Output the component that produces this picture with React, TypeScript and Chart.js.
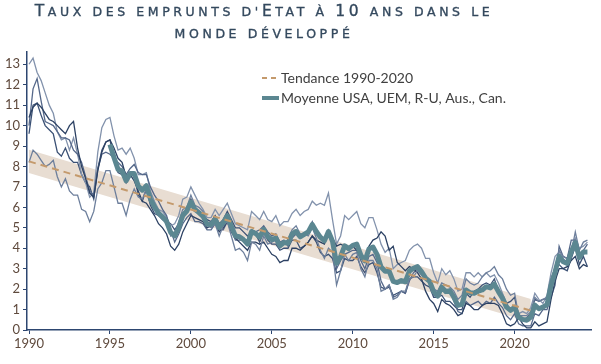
import React, { useEffect, useRef } from "react";
import { Chart, registerables } from "chart.js";

Chart.register(...registerables);

// Quarterly 10-year government bond yields (%), first value = 1990 Q1
const FIRST_YEAR = 1990;
const STEP = 0.25;

const usa = [
  8.2, 8.8, 8.6, 8.3, 8.0, 8.1, 8.3, 7.5, 7.0, 7.4, 6.8, 6.6, 6.6, 5.9, 5.8, 5.3,
  5.8, 6.9, 7.2, 7.8, 7.8, 7.0, 6.2, 6.2, 5.6, 6.4, 6.9, 6.5, 6.4, 6.9, 6.3, 5.9,
  5.6, 5.6, 5.4, 4.6, 4.7, 5.3, 5.9, 6.0, 6.6, 6.1, 6.0, 5.8, 5.1, 5.0, 5.2, 4.6,
  5.1, 5.3, 4.6, 3.9, 4.0, 3.8, 3.4, 4.3, 4.2, 3.9, 4.6, 4.2, 4.3, 4.4, 4.0, 4.3,
  4.4, 4.9, 5.1, 4.7, 4.7, 4.6, 5.0, 4.5, 3.9, 3.5, 4.0, 3.8, 2.2, 2.9, 3.7, 3.4,
  3.7, 3.8, 3.0, 2.6, 3.4, 3.4, 3.0, 1.9, 2.0, 2.2, 1.5, 1.6, 1.9, 1.9, 2.5, 2.6,
  2.9, 2.7, 2.5, 2.4, 2.0, 1.9, 2.3, 2.2, 2.1, 1.9, 1.5, 1.7, 2.5, 2.3, 2.2, 2.3,
  2.6, 2.8, 2.9, 3.1, 2.7, 2.5, 2.0, 1.7, 1.8, 0.7, 0.7, 0.7, 0.9, 1.6, 1.4, 1.5,
  1.6, 2.5, 3.0, 3.9, 3.6, 3.5, 3.8, 4.8, 3.9, 4.3, 4.4,
];

const uem = [
  10.4, 10.9, 11.1, 10.9, 10.6, 10.3, 10.2, 10.0, 9.8, 9.6, 10.0, 10.2, 8.9, 8.0, 7.4, 6.7,
  6.5, 7.8, 8.7, 9.2, 9.3, 8.9, 8.4, 8.2, 7.5, 7.6, 7.3, 6.8, 6.3, 6.2, 5.9, 5.6,
  5.2, 5.0, 4.7, 4.1, 3.9, 4.2, 4.8, 5.2, 5.6, 5.5, 5.4, 5.3, 5.0, 5.1, 5.2, 4.8,
  5.0, 5.3, 4.8, 4.5, 4.3, 4.1, 3.9, 4.3, 4.3, 4.2, 4.3, 4.0, 3.7, 3.6, 3.3, 3.4,
  3.4, 4.0, 4.0, 3.9, 4.1, 4.3, 4.6, 4.4, 4.3, 4.2, 4.8, 4.5, 4.1, 4.2, 4.1, 3.9,
  4.1, 3.9, 3.6, 3.5, 4.1, 4.4, 4.5, 4.8, 4.6, 3.9, 4.1, 3.3, 3.1, 2.9, 3.1, 3.0,
  2.8, 2.5, 1.9, 1.5, 1.3, 0.9, 1.5, 1.3, 1.2, 1.0, 0.7, 0.8, 1.3, 1.2, 1.0, 1.0,
  1.2, 1.3, 1.3, 1.3, 1.2, 0.8, 0.3, 0.2, 0.3, 0.6, 0.3, 0.1, 0.1, 0.4, 0.2, 0.3,
  0.4, 1.5, 2.4, 3.0, 3.0, 3.1, 3.4, 3.6, 3.0, 3.2, 3.1,
];

const ru = [
  10.0, 11.8, 12.3, 11.2, 10.2, 10.1, 10.0, 9.7, 9.4, 9.4, 9.3, 8.8, 8.6, 8.2, 7.5, 6.8,
  6.6, 7.9, 8.6, 8.7, 8.6, 8.4, 8.2, 8.0, 7.6, 7.9, 8.1, 7.7, 7.6, 7.6, 7.0, 6.6,
  6.3, 5.9, 5.6, 4.9, 4.3, 4.7, 5.2, 5.5, 5.7, 5.3, 5.3, 5.2, 4.9, 4.9, 5.2, 4.9,
  4.9, 5.3, 4.9, 4.4, 4.4, 4.4, 4.2, 4.9, 4.8, 4.9, 5.1, 4.8, 4.6, 4.7, 4.3, 4.4,
  4.1, 4.5, 4.7, 4.6, 4.7, 4.9, 5.3, 4.8, 4.5, 4.4, 4.9, 4.5, 3.0, 3.4, 3.7, 3.8,
  3.9, 3.9, 3.4, 3.0, 3.6, 3.7, 3.3, 2.4, 2.0, 2.2, 1.6, 1.7, 1.9, 1.8, 2.4, 2.8,
  3.0, 2.7, 2.6, 2.4, 1.7, 1.6, 2.0, 1.8, 2.0, 1.4, 0.9, 0.8, 1.4, 1.2, 1.3, 1.4,
  1.2, 1.4, 1.3, 1.6, 1.3, 1.1, 0.7, 0.5, 0.8, 0.3, 0.2, 0.2, 0.2, 0.8, 0.7, 1.0,
  1.0, 1.6, 2.2, 4.1, 3.6, 3.5, 4.4, 4.4, 3.6, 3.9, 4.2,
];

const aus = [
  13.0, 13.3, 12.6, 12.2, 11.6, 11.0, 10.6, 9.7, 9.3, 9.4, 8.8, 9.4, 8.6, 7.6, 7.2, 6.5,
  6.7, 8.7, 9.9, 10.3, 10.4, 9.5, 8.8, 8.9, 8.6, 8.9, 8.4, 7.6, 7.6, 7.7, 6.8, 6.3,
  5.9, 5.8, 5.5, 5.1, 5.2, 5.6, 6.4, 6.5, 7.0, 6.6, 6.2, 5.9, 5.5, 5.5, 5.9, 5.6,
  5.9, 6.2, 5.7, 5.2, 5.1, 5.0, 4.9, 5.8, 5.6, 5.4, 5.8, 5.4, 5.3, 5.6, 5.1, 5.3,
  5.3, 5.7, 5.9, 5.6, 5.8, 5.9, 6.3, 6.1, 6.2, 6.1, 6.7, 5.4, 4.2, 4.6, 5.6, 5.4,
  5.6, 5.8, 5.2, 5.0, 5.5, 5.5, 4.9, 4.2, 3.8, 4.0, 3.0, 3.2, 3.3, 3.4, 3.9, 4.1,
  4.2, 4.0, 3.5, 3.5, 2.8, 2.3, 3.0, 2.7, 2.9, 2.5, 1.9, 2.0, 2.8, 2.8, 2.6, 2.8,
  2.6, 2.8, 2.6, 2.7, 2.3, 1.8, 1.3, 1.0, 1.1, 0.8, 0.9, 0.8, 1.1, 1.8, 1.5, 1.3,
  1.7, 2.8, 3.6, 3.8, 3.5, 3.3, 4.0, 4.5, 4.0, 4.1, 4.3,
];

const can = [
  9.6, 11.0, 11.1, 10.5, 10.0, 9.8, 9.6, 8.7, 8.5, 8.9, 8.4, 8.2, 8.2, 7.6, 7.2, 7.0,
  6.4, 7.9, 8.8, 9.2, 9.3, 8.4, 7.7, 7.6, 7.2, 7.5, 7.6, 6.6, 6.3, 6.9, 6.1, 5.7,
  5.6, 5.4, 5.3, 5.2, 4.9, 5.2, 5.7, 5.9, 6.4, 6.0, 5.8, 5.6, 5.4, 5.3, 5.6, 5.2,
  5.4, 5.8, 5.4, 5.0, 5.0, 4.8, 4.6, 4.8, 4.7, 4.3, 4.8, 4.4, 4.2, 4.2, 3.9, 4.0,
  4.0, 4.4, 4.4, 4.0, 4.1, 4.3, 4.6, 4.3, 3.8, 3.6, 3.7, 3.5, 2.8, 2.9, 3.5, 3.4,
  3.4, 3.6, 3.1, 2.8, 3.2, 3.3, 2.8, 2.1, 2.0, 2.1, 1.7, 1.8, 1.9, 1.8, 2.5, 2.6,
  2.6, 2.4, 2.2, 2.1, 1.6, 1.6, 1.7, 1.4, 1.4, 1.2, 1.0, 1.0, 1.8, 1.6, 1.9, 2.0,
  2.2, 2.3, 2.2, 2.5, 1.9, 1.6, 1.3, 1.4, 1.6, 0.7, 0.5, 0.6, 0.8, 1.5, 1.4, 1.5,
  1.5, 2.5, 3.0, 3.2, 3.0, 2.9, 3.5, 4.1, 3.2, 3.6, 3.1,
];

// Average of the five, quarterly, first value = 1995 Q1
const AVG_FIRST_YEAR = 1995;
const moyenne = [
  9.08, 8.44, 7.86, 7.78, 7.3, 7.66, 7.66, 7.04, 6.84, 7.06, 6.42, 6.02,
  5.72, 5.54, 5.3, 4.78, 4.6, 5.0, 5.6, 5.82, 6.26, 5.9, 5.74, 5.56,
  5.18, 5.16, 5.42, 5.02, 5.26, 5.58, 5.08, 4.6, 4.56, 4.42, 4.2, 4.82,
  4.72, 4.54, 4.92, 4.56, 4.42, 4.5, 4.12, 4.28, 4.24, 4.7, 4.82, 4.56,
  4.68, 4.8, 5.16, 4.82, 4.54, 4.36, 4.82, 4.34, 3.26, 3.6, 4.12, 3.98,
  4.14, 4.2, 3.66, 3.38, 3.96, 4.06, 3.7, 3.08, 2.88, 2.88, 2.38, 2.32,
  2.42, 2.36, 2.88, 3.02, 3.1, 2.86, 2.54, 2.38, 1.88, 1.66, 2.1, 1.88,
  1.92, 1.6, 1.2, 1.26, 1.96, 1.82, 1.8, 1.9, 1.96, 2.12, 2.06, 2.24,
  1.88, 1.56, 1.12, 0.96, 1.12, 0.62, 0.52, 0.48, 0.62, 1.22, 1.04, 1.12,
  1.24, 2.18, 2.84, 3.6, 3.34, 3.26, 3.82, 4.28, 3.54, 3.82, 3.82,
];

// Linear trend 1990-2020 and its band
const trendYears = [1990, 2021];
const trendValues = [8.25, 0.95];
const bandUpper = [8.82, 1.52];
const bandLower = [7.68, 0.38];

const xTickYears = [1990, 1995, 2000, 2005, 2010, 2015, 2020];
const yTickValues = [0, 1, 2, 3, 4, 5, 6, 7, 8, 9, 10, 11, 12, 13];

const legendLabels = ["Tendance 1990-2020", "Moyenne USA, UEM, R-U, Aus., Can."];
const seriesNames = ["USA", "UEM", "R-U", "Aus.", "Can."];

const AXIS_COLOR = "#2d4670";
const TICK_COLOR = "#5f4a3d";
const TREND_COLOR = "#c49a6c";
const BAND_COLOR = "#e8ddd2";
const AVG_COLOR = "#5b8791";
const LINE_COLORS = ["#6d7f9c", "#2c4163", "#55688a", "#8292ac", "#3b5175"];
const TITLE_COLOR = "#34495e";

function toPoints(values: number[], start: number) {
  return values.map((y, i) => ({ x: start + i * STEP, y }));
}
function pairPoints(xs: number[], ys: number[]) {
  return xs.map((x, i) => ({ x, y: ys[i] }));
}

const legendPlugin = {
  id: "customLegend",
  afterDraw(chart: any) {
    const ctx = chart.ctx;
    const area = chart.chartArea;
    const x0 = area.left + 235;
    const y1 = area.top + 26;
    const y2 = area.top + 46;
    ctx.save();
    ctx.lineCap = "butt";
    ctx.strokeStyle = TREND_COLOR;
    ctx.lineWidth = 2;
    ctx.setLineDash([5, 4]);
    ctx.beginPath();
    ctx.moveTo(x0, y1);
    ctx.lineTo(x0 + 17, y1);
    ctx.stroke();
    ctx.setLineDash([]);
    ctx.strokeStyle = AVG_COLOR;
    ctx.lineWidth = 4;
    ctx.beginPath();
    ctx.moveTo(x0, y2);
    ctx.lineTo(x0 + 17, y2);
    ctx.stroke();
    ctx.font = "14px Lato";
    ctx.fillStyle = "#404040";
    ctx.textBaseline = "middle";
    ctx.textAlign = "left";
    ctx.fillText(legendLabels[0], x0 + 19, y1);
    ctx.fillText(legendLabels[1], x0 + 19, y2);
    ctx.restore();
  },
};

const big: React.CSSProperties = { fontSize: 15.5 };
const small: React.CSSProperties = { fontSize: 12.5, textTransform: "uppercase" };

export default function App() {
  const ref = useRef<HTMLCanvasElement | null>(null);

  useEffect(() => {
    if (!ref.current) return;
    const countries = [usa, uem, ru, aus, can];
    const datasets: any[] = [
      {
        label: "band-upper",
        data: pairPoints(trendYears, bandUpper),
        borderWidth: 0,
        pointRadius: 0,
        backgroundColor: BAND_COLOR,
        fill: "+1",
        order: 20,
      },
      {
        label: "band-lower",
        data: pairPoints(trendYears, bandLower),
        borderWidth: 0,
        pointRadius: 0,
        fill: false,
        order: 21,
      },
      ...countries.map((vals, i) => ({
        label: seriesNames[i],
        data: toPoints(vals, FIRST_YEAR),
        borderColor: LINE_COLORS[i],
        borderWidth: 1.3,
        pointRadius: 0,
        fill: false,
        tension: 0,
        order: 5 + i,
      })),
      {
        label: legendLabels[1],
        data: toPoints(moyenne, AVG_FIRST_YEAR),
        borderColor: AVG_COLOR,
        borderWidth: 5,
        pointRadius: 0,
        fill: false,
        tension: 0,
        borderJoinStyle: "round",
        order: 2,
      },
      {
        label: legendLabels[0],
        data: pairPoints(trendYears, trendValues),
        borderColor: TREND_COLOR,
        borderWidth: 2,
        borderDash: [7, 5],
        pointRadius: 0,
        fill: false,
        order: 1,
      },
    ];

    const chart = new Chart(ref.current, {
      type: "line",
      data: { datasets },
      options: {
        responsive: false,
        animation: false,
        events: [],
        layout: { padding: { top: 52, right: 10, left: 0, bottom: 0 } },
        plugins: { legend: { display: false }, tooltip: { enabled: false }, title: { display: false } },
        scales: {
          x: {
            type: "linear",
            min: 1989.876,
            max: 2024.72,
            afterFit: (s: any) => {
              s.height = 34;
            },
            afterBuildTicks: (s: any) => {
              s.ticks = xTickYears.map((v) => ({ value: v }));
            },
            ticks: {
              callback: (v: any) => String(v),
              color: TICK_COLOR,
              font: { family: "Lato", size: 13 },
              padding: 2,
              maxRotation: 0,
              autoSkip: false,
            },
            grid: { drawOnChartArea: false, drawTicks: true, tickLength: 4, color: AXIS_COLOR, lineWidth: 1 },
            border: { display: true, color: AXIS_COLOR, width: 1.5 },
          },
          y: {
            type: "linear",
            min: 0,
            max: 13.6,
            afterFit: (s: any) => {
              s.width = 27;
            },
            afterBuildTicks: (s: any) => {
              s.ticks = yTickValues.map((v) => ({ value: v }));
            },
            ticks: {
              callback: (v: any) => String(v),
              color: TICK_COLOR,
              font: { family: "Lato", size: 13 },
              padding: 3,
              autoSkip: false,
            },
            grid: { drawOnChartArea: false, drawTicks: true, tickLength: 4, color: AXIS_COLOR, lineWidth: 1 },
            border: { display: true, color: AXIS_COLOR, width: 1.5 },
          },
        },
      },
      plugins: [legendPlugin],
    });
    return () => chart.destroy();
  }, []);

  return (
    <div style={{ position: "fixed", left: 0, top: 0, width: 601, height: 364, background: "#fff" }}>
      <div
        style={{
          position: "absolute",
          left: 0,
          top: 0,
          width: 528,
          textAlign: "center",
          fontFamily: "'DejaVu Sans', Verdana, sans-serif",
          lineHeight: "21px",
          letterSpacing: "3.6px",
          color: TITLE_COLOR,
          WebkitTextStroke: `0.35px ${TITLE_COLOR}`,
        }}
      >
        <span style={big}>T</span>
        <span style={small}>aux des emprunts d'</span>
        <span style={big}>E</span>
        <span style={small}>tat à </span>
        <span style={big}>10</span>
        <span style={small}> ans dans le</span>
        <br />
        <span style={small}>monde développé</span>
      </div>
      <canvas ref={ref} width={601} height={364} style={{ display: "block", width: 601, height: 364 }} />
    </div>
  );
}
